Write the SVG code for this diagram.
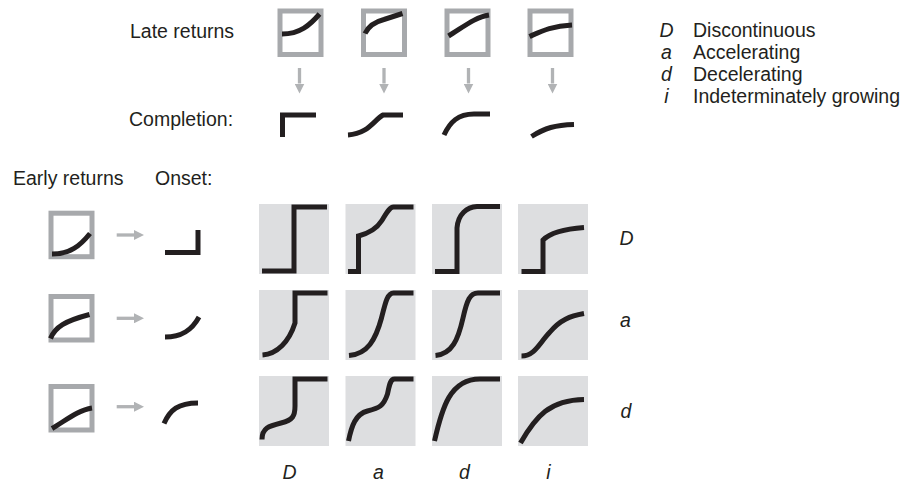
<svg xmlns="http://www.w3.org/2000/svg" width="903" height="484" viewBox="0 0 903 484">
<style>
text{font-family:"Liberation Sans",Arial,sans-serif;font-size:19.5px;fill:#231f20}
.it{font-style:italic}
.mid{text-anchor:middle}
.box{fill:none;stroke:#a7a9ac;stroke-width:5}
.cv{fill:none;stroke:#231f20;stroke-width:5;stroke-linejoin:miter;stroke-linecap:butt}
.cell{fill:#dddee0}
.arr{stroke:#b1b3b5;stroke-width:3.3;fill:none}
</style>
<defs>
<marker id="ah" viewBox="0 0 10 10" refX="0" refY="5" markerWidth="10" markerHeight="10" markerUnits="userSpaceOnUse" orient="auto">
<path d="M0,0 L10,5 L0,10 z" fill="#b1b3b5"/>
</marker>
</defs>

<text x="130" y="38">Late returns</text>
<text x="129" y="126">Completion:</text>
<text x="13" y="185">Early returns</text>
<text x="155" y="185">Onset:</text>

<g id="legend">
<text class="it mid" x="666.5" y="37">D</text><text x="693" y="37">Discontinuous</text>
<text class="it mid" x="666.5" y="59">a</text><text x="693" y="59">Accelerating</text>
<text class="it mid" x="666.5" y="81">d</text><text x="693" y="81">Decelerating</text>
<text class="it mid" x="666.5" y="103">i</text><text x="693" y="103">Indeterminately growing</text>
</g>

<g id="late-D"><rect class="box" x="280" y="11" width="41" height="43.5"/><path class="cv" d="M282,34 C300,34 310,25 319.5,14"/></g>
<g id="late-a"><rect class="box" x="363.5" y="11" width="41" height="43.5"/><path class="cv" d="M365,33.5 Q370,23 384,19.5 L402.5,13.5"/></g>
<g id="late-d"><rect class="box" x="447" y="11" width="41" height="43.5"/><path class="cv" d="M448.5,36 C462,28 475,17 489,15"/></g>
<g id="late-i"><rect class="box" x="530" y="11" width="41" height="43.5"/><path class="cv" d="M529.5,36.5 C542,31 552,26 572,25"/></g>

<g id="completion-D"><path class="cv" d="M282.5,137 V115 H316"/></g>
<g id="completion-a"><path class="cv" d="M348,135 C368,134 374,120 383,115 H403"/></g>
<g id="completion-d"><path class="cv" d="M444,135 C450,122 458,114 474,114 H490"/></g>
<g id="completion-i"><path class="cv" d="M531.5,136.5 C545,128 555,125 574,124.5"/></g>

<g id="early-D"><rect class="box" x="51" y="213.2" width="41" height="43.5"/><path class="cv" d="M52,254 C70,254 80,246 90,233.5"/></g>
<g id="early-a"><rect class="box" x="51" y="296.5" width="41" height="43.5"/><path class="cv" d="M50.5,338.5 C55,327 65,321 89.5,314.5"/></g>
<g id="early-d"><rect class="box" x="51" y="386.5" width="41" height="43.5"/><path class="cv" d="M52,428.5 C65,421 78,410 92,408"/></g>

<g id="onset-D"><path class="cv" d="M165,252.5 H198 V230"/></g>
<g id="onset-a"><path class="cv" d="M165,337 C182,337 192,330 199,317"/></g>
<g id="onset-d"><path class="cv" d="M164,423.5 C170,410 178,403 198,403"/></g>

<g id="connectors">
<line class="arr" x1="299.5" y1="68" x2="299.5" y2="83.5" marker-end="url(#ah)"/>
<line class="arr" x1="384" y1="68" x2="384" y2="83.5" marker-end="url(#ah)"/>
<line class="arr" x1="468.5" y1="68" x2="468.5" y2="83.5" marker-end="url(#ah)"/>
<line class="arr" x1="552.5" y1="68" x2="552.5" y2="83.5" marker-end="url(#ah)"/>
<line class="arr" x1="116.7" y1="235" x2="134" y2="235" marker-end="url(#ah)"/>
<line class="arr" x1="116.7" y1="318.3" x2="134" y2="318.3" marker-end="url(#ah)"/>
<line class="arr" x1="116.7" y1="406.7" x2="134" y2="406.7" marker-end="url(#ah)"/>
</g>

<g id="cell-DD" transform="translate(259,204)"><rect class="cell" width="70" height="70"/><path class="cv" d="M3,67 H35 V3 H68"/></g>
<g id="cell-Da" transform="translate(345.5,204)"><rect class="cell" width="70" height="70"/><path class="cv" d="M2.5,67.5 H13 V32 C24,29 31,25 36,17 C41,9 44,3 48,3 H68"/></g>
<g id="cell-Dd" transform="translate(432,204)"><rect class="cell" width="70" height="70"/><path class="cv" d="M3,67.5 H25 V24 C26,10 35,3 45,2.5 H68"/></g>
<g id="cell-Di" transform="translate(518,204)"><rect class="cell" width="70" height="70"/><path class="cv" d="M3.5,67.5 H25 V36 C32,29 45,25 66,23.5"/></g>

<g id="cell-aD" transform="translate(259,290)"><rect class="cell" width="70" height="70"/><path class="cv" d="M3.5,65 C18,64 30,52 36,33 V3 H68.5"/></g>
<g id="cell-aa" transform="translate(345.5,290)"><rect class="cell" width="70" height="70"/><path class="cv" d="M3.5,65.5 C22,64 30,50 36,28 C40,12 42,3 48,3 H68"/></g>
<g id="cell-ad" transform="translate(432,290)"><rect class="cell" width="70" height="70"/><path class="cv" d="M3.5,65.5 C20,64 26,50 31,28 C35,10 38,3 46,3 H68"/></g>
<g id="cell-ai" transform="translate(518,290)"><rect class="cell" width="70" height="70"/><path class="cv" d="M3.5,66 C17,66 22,52 32,42 C42,30 52,26 66,23.5"/></g>

<g id="cell-dD" transform="translate(259,376)"><rect class="cell" width="70" height="70"/><path class="cv" d="M3,63.5 C3,52 10,50 22,47 C34,44 36,40 36,30 V3 H68.5"/></g>
<g id="cell-da" transform="translate(345.5,376)"><rect class="cell" width="70" height="70"/><path class="cv" d="M3,65 C6,50 10,38 22,35 C34,32 38,30 42,18 C44,8 45,3 49,3 H68"/></g>
<g id="cell-dd" transform="translate(432,376)"><rect class="cell" width="70" height="70"/><path class="cv" d="M2.5,65 C10,32 18,3 48,3 H68"/></g>
<g id="cell-di" transform="translate(518,376)"><rect class="cell" width="70" height="70"/><path class="cv" d="M2.5,67 C18,40 32,24 66,23.5"/></g>

<g id="row-labels">
<text class="it mid" x="626.5" y="245">D</text>
<text class="it mid" x="625.5" y="327">a</text>
<text class="it mid" x="626" y="418">d</text>
</g>
<g id="col-labels">
<text class="it mid" x="289.5" y="479">D</text>
<text class="it mid" x="378.5" y="479">a</text>
<text class="it mid" x="464.5" y="479">d</text>
<text class="it mid" x="548.5" y="479">i</text>
</g>
</svg>
